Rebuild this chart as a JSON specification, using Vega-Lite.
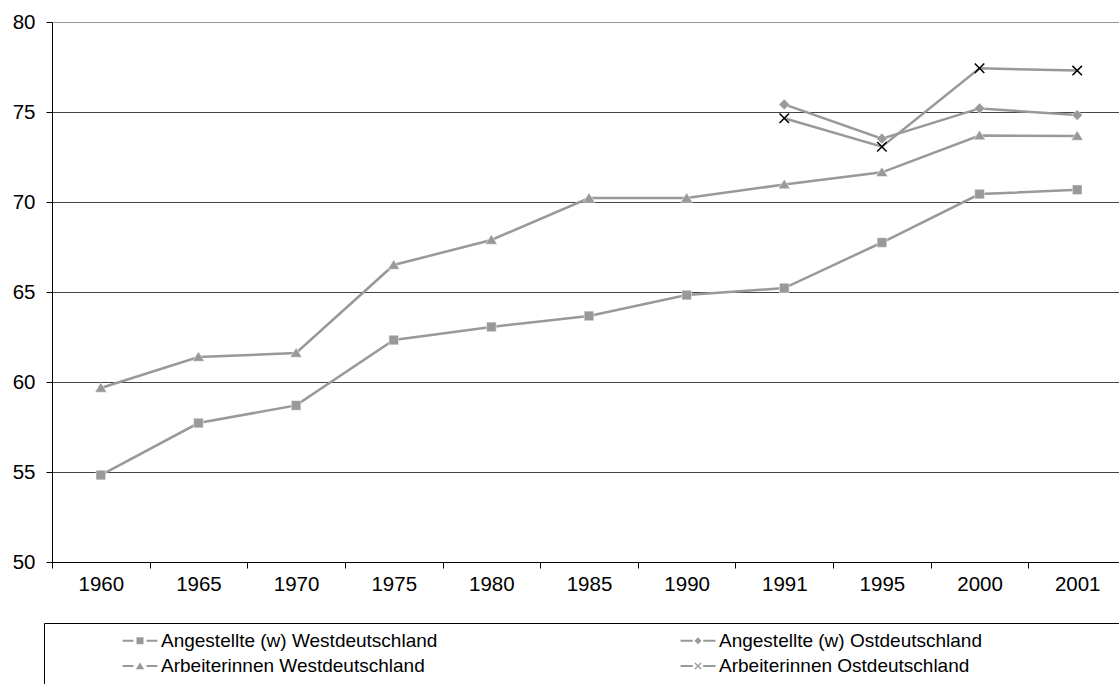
{
  "$schema": "https://vega.github.io/schema/vega-lite/v6.json",
  "autosize": {"type": "none"},
  "padding": {"left": 52, "top": 22, "right": 0, "bottom": 122},
  "width": 1074,
  "height": 540,
  "background": "white",
  "config": {
    "view": {"stroke": null},
    "font": "Liberation Sans",
    "axis": {"labelFont": "Liberation Sans", "labelFontSize": 20.5, "labelColor": "black", "domainColor": "black", "tickColor": "black", "title": null},
    "legend": {"labelFont": "Liberation Sans", "labelFontSize": 19, "labelColor": "black"}
  },
  "data": {
    "values": [
      {"year": "1960", "series": "Angestellte (w) Westdeutschland", "value": 54.83},
      {"year": "1965", "series": "Angestellte (w) Westdeutschland", "value": 57.72},
      {"year": "1970", "series": "Angestellte (w) Westdeutschland", "value": 58.7},
      {"year": "1975", "series": "Angestellte (w) Westdeutschland", "value": 62.33},
      {"year": "1980", "series": "Angestellte (w) Westdeutschland", "value": 63.06},
      {"year": "1985", "series": "Angestellte (w) Westdeutschland", "value": 63.67},
      {"year": "1990", "series": "Angestellte (w) Westdeutschland", "value": 64.83},
      {"year": "1991", "series": "Angestellte (w) Westdeutschland", "value": 65.22},
      {"year": "1995", "series": "Angestellte (w) Westdeutschland", "value": 67.75},
      {"year": "2000", "series": "Angestellte (w) Westdeutschland", "value": 70.44},
      {"year": "2001", "series": "Angestellte (w) Westdeutschland", "value": 70.68},
      {"year": "1991", "series": "Angestellte (w) Ostdeutschland", "value": 75.42},
      {"year": "1995", "series": "Angestellte (w) Ostdeutschland", "value": 73.52},
      {"year": "2000", "series": "Angestellte (w) Ostdeutschland", "value": 75.2},
      {"year": "2001", "series": "Angestellte (w) Ostdeutschland", "value": 74.83},
      {"year": "1960", "series": "Arbeiterinnen Westdeutschland", "value": 59.67},
      {"year": "1965", "series": "Arbeiterinnen Westdeutschland", "value": 61.39},
      {"year": "1970", "series": "Arbeiterinnen Westdeutschland", "value": 61.61},
      {"year": "1975", "series": "Arbeiterinnen Westdeutschland", "value": 66.5},
      {"year": "1980", "series": "Arbeiterinnen Westdeutschland", "value": 67.89},
      {"year": "1985", "series": "Arbeiterinnen Westdeutschland", "value": 70.22},
      {"year": "1990", "series": "Arbeiterinnen Westdeutschland", "value": 70.22},
      {"year": "1991", "series": "Arbeiterinnen Westdeutschland", "value": 70.97},
      {"year": "1995", "series": "Arbeiterinnen Westdeutschland", "value": 71.65},
      {"year": "2000", "series": "Arbeiterinnen Westdeutschland", "value": 73.69},
      {"year": "2001", "series": "Arbeiterinnen Westdeutschland", "value": 73.67},
      {"year": "1991", "series": "Arbeiterinnen Ostdeutschland", "value": 74.65},
      {"year": "1995", "series": "Arbeiterinnen Ostdeutschland", "value": 73.07},
      {"year": "2000", "series": "Arbeiterinnen Ostdeutschland", "value": 77.43},
      {"year": "2001", "series": "Arbeiterinnen Ostdeutschland", "value": 77.3}
    ]
  },
  "encoding": {
    "x": {
      "field": "year", "type": "ordinal",
      "scale": {"type": "band", "paddingInner": 0, "paddingOuter": 0, "domain": ["1960","1965","1970","1975","1980","1985","1990","1991","1995","2000","2001"]},
      "axis": {"tickBand": "extent", "labelAngle": 0, "tickSize": 6, "labelPadding": 6, "grid": false}
    },
    "y": {
      "field": "value", "type": "quantitative",
      "scale": {"domain": [50, 80], "nice": false, "zero": false},
      "axis": {"values": [50,55,60,65,70,75,80], "tickSize": 6, "labelPadding": 11, "grid": true,
               "gridColor": {"condition": {"test": "datum.value == 80", "value": "#999999"}, "value": "#444444"}, "gridWidth": 1}
    }
  },
  "resolve": {"scale": {"shape": "independent"}, "legend": {"shape": "independent"}},
  "layer": [
    {
      "mark": {"type": "line", "color": "#999999", "strokeWidth": 2.5},
      "encoding": {"detail": {"field": "series", "type": "nominal"}}
    },
    {
      "transform": [{"filter": "datum.series != 'Arbeiterinnen Ostdeutschland'"}],
      "mark": {"type": "point", "filled": true, "color": "#999999", "opacity": 1, "stroke": "white", "strokeWidth": 0.5},
      "encoding": {
        "shape": {"field": "series", "type": "nominal", "legend": null,
          "scale": {"domain": ["Angestellte (w) Westdeutschland", "Angestellte (w) Ostdeutschland", "Arbeiterinnen Westdeutschland"],
                    "range": ["M-0.9,-0.9H0.9V0.9H-0.9Z", "M0,-1L1,0L0,1L-1,0Z", "M0,-1L1.1,0.8H-1.1Z"]}},
        "size": {"value": 115}
      }
    },
    {
      "transform": [{"filter": "datum.series == 'Arbeiterinnen Ostdeutschland'"}],
      "mark": {"type": "point", "filled": false, "color": "black", "opacity": 1, "strokeWidth": 1.5, "shape": "M-1,-1L1,1M1,-1L-1,1", "size": 90},
      "encoding": {}
    },
    {
      "transform": [{"filter": "false"}],
      "mark": {"type": "point", "filled": true, "color": "#999999", "opacity": 1},
      "encoding": {
        "shape": {"field": "series", "type": "nominal",
          "scale": {"domain": ["Angestellte (w) Westdeutschland", "Angestellte (w) Ostdeutschland", "Arbeiterinnen Westdeutschland", "Arbeiterinnen Ostdeutschland"],
                    "range": [
                      "M-1.94,-0.11H-0.72V0.11H-1.94Z M0.72,-0.11H1.94V0.11H0.72Z M-0.39,-0.39H0.39V0.39H-0.39Z",
                      "M-1.94,-0.11H-0.58V0.11H-1.94Z M0.58,-0.11H1.94V0.11H0.58Z M0,-0.39L0.39,0L0,0.39L-0.39,0Z",
                      "M-1.94,-0.11H-0.72V0.11H-1.94Z M0.72,-0.11H1.94V0.11H0.72Z M0,-0.39L0.47,0.35H-0.47Z",
                      "M-1.94,-0.11H-0.58V0.11H-1.94Z M0.58,-0.11H1.94V0.11H0.58Z M-0.39,-0.29L-0.29,-0.39L0.39,0.29L0.29,0.39Z M0.29,-0.39L0.39,-0.29L-0.29,0.39L-0.39,0.29Z"
                    ]},
          "legend": {
            "title": null, "orient": "none", "legendX": -8, "legendY": 601, "direction": "horizontal",
            "columns": 2, "symbolSize": 324, "symbolStrokeWidth": 0, "symbolFillColor": "#999999",
            "symbolOffset": 78.5, "labelOffset": 11.5, "padding": 8, "columnPadding": 172, "rowPadding": 5.5,
            "strokeColor": "black", "labelLimit": 800,
            "labelExpr": "indexof(datum.label, 'Ost') >= 0 ? datum.label + '\u2800\u2800\u2800\u2800\u2800\u2800\u2800\u2800\u2800\u2800\u2800\u2800\u2800\u2800' : datum.label"
          }
        }
      }
    }
  ]
}
